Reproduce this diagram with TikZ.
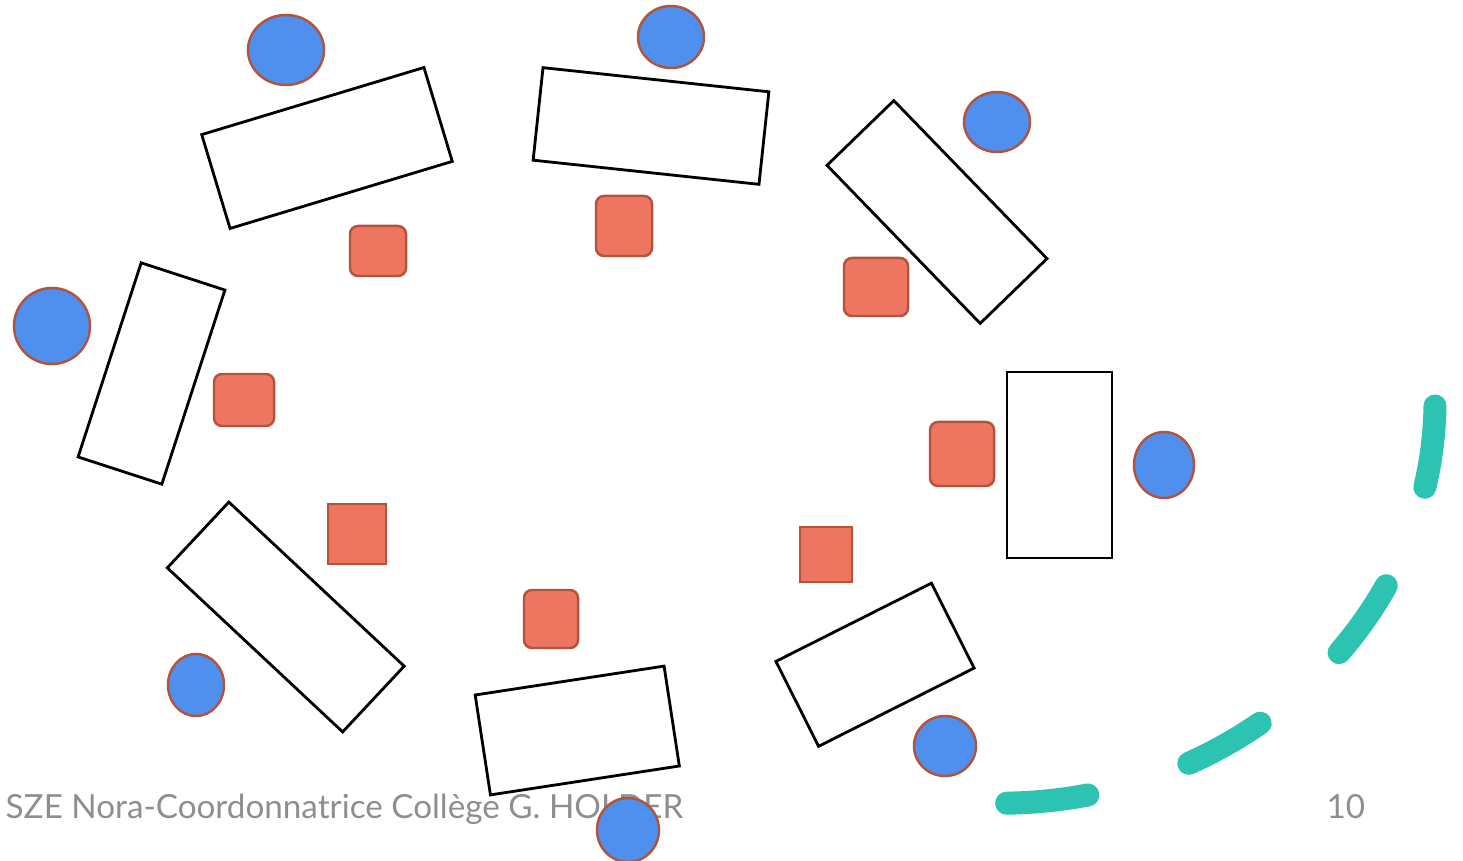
\documentclass[tikz,border=0pt]{standalone}
\usepackage{fontspec}
\setmainfont{Lato}
\usetikzlibrary{shapes.geometric}
\definecolor{chairblue}{HTML}{4F90EE}
\definecolor{chairrim}{HTML}{B2533E}
\definecolor{deskred}{HTML}{EE7660}
\definecolor{pathteal}{HTML}{2DC3B2}
\definecolor{footgray}{HTML}{8E8E8E}

\begin{document}
\begin{tikzpicture}[
  x=0.01cm, y=-0.01cm,
  tablebox/.style={draw=black,line width=0.8pt,inner sep=0pt,outer sep=0pt},
  chair/.style={ellipse,fill=chairblue,draw=chairrim,line width=0.7pt,inner sep=0pt},
  seat/.style={fill=deskred,draw=chairrim,line width=0.7pt,inner sep=0pt,rounded corners=0.8mm},
  seatsq/.style={fill=deskred,draw=chairrim,line width=0.8pt,inner sep=0pt},
  foot/.style={font=\fontsize{9.45}{11}\selectfont,text=footgray,inner sep=0pt}
]

% ---- canvas (same framing as the slide) ----
\useasboundingbox (0,0) rectangle (1463,861);

% ---- tables ----
\node[tablebox,minimum width=2.32cm,minimum height=0.98cm,rotate=16.8]  (t1) at (327,148) {};
\node[tablebox,minimum width=2.27cm,minimum height=0.93cm,rotate=-6.1]  (t2) at (651,126) {};
\node[tablebox,minimum width=2.20cm,minimum height=0.93cm,rotate=-45.9] (t3) at (937,212) {};
\node[tablebox,minimum width=2.04cm,minimum height=0.88cm,rotate=72]    (t4) at (151.5,373.5) {};
\node[tablebox,minimum width=1.05cm,minimum height=1.86cm]              (t5) at (1059.5,465) {};
\node[tablebox,minimum width=2.40cm,minimum height=0.90cm,rotate=-43.1] (t6) at (285.75,617) {};
\node[tablebox,minimum width=1.91cm,minimum height=1.01cm,rotate=8.7]   (t7) at (577.25,730.5) {};
\node[tablebox,minimum width=1.74cm,minimum height=0.95cm,rotate=26.7]  (t8) at (875,664.75) {};

% ---- red seats ----
\node[seat,minimum width=0.56cm,minimum height=0.50cm] (s1) at (378,251) {};
\node[seat,minimum width=0.56cm,minimum height=0.60cm] (s2) at (624,226) {};
\node[seat,minimum width=0.64cm,minimum height=0.58cm] (s3) at (876,287) {};
\node[seat,minimum width=0.60cm,minimum height=0.52cm] (s4) at (244,400) {};
\node[seat,minimum width=0.64cm,minimum height=0.64cm] (s5) at (962,454) {};
\node[seatsq,minimum width=0.58cm,minimum height=0.60cm] (s6) at (357,534) {};
\node[seatsq,minimum width=0.52cm,minimum height=0.55cm] (s7) at (826,554.5) {};
\node[seat,minimum width=0.54cm,minimum height=0.58cm] (s8) at (551,619) {};

% ---- footer ----
\node[foot,anchor=base west] (foottext) at (5,818)
  {SZE Nora-Coordonnatrice Collège G. HOLDER};
\node[foot,anchor=base west] (pagenum) at (1326,818) {10};

% ---- blue chairs ----
\node[chair,minimum width=0.76cm,minimum height=0.70cm] (c1) at (286,50) {};
\node[chair,minimum width=0.66cm,minimum height=0.62cm] (c2) at (671,37) {};
\node[chair,minimum width=0.66cm,minimum height=0.60cm] (c3) at (997,122) {};
\node[chair,minimum width=0.76cm,minimum height=0.76cm] (c4) at (52,326) {};
\node[chair,minimum width=0.60cm,minimum height=0.66cm] (c5) at (1164,465) {};
\node[chair,minimum width=0.56cm,minimum height=0.62cm] (c6) at (196,685) {};
\node[chair,minimum width=0.62cm,minimum height=0.60cm] (c7) at (945,746) {};
\node[chair,minimum width=0.62cm,minimum height=0.64cm] (c8) at (628,830) {};

% ---- teal dashed path ----
\draw[pathteal,line width=0.23cm,line cap=round,dash pattern=on 0.82cm off 1.06cm]
  (1435,406) arc[start angle=-0.85,end angle=-89.1,x radius=4.35cm,y radius=4.03cm];

\end{tikzpicture}
\end{document}
